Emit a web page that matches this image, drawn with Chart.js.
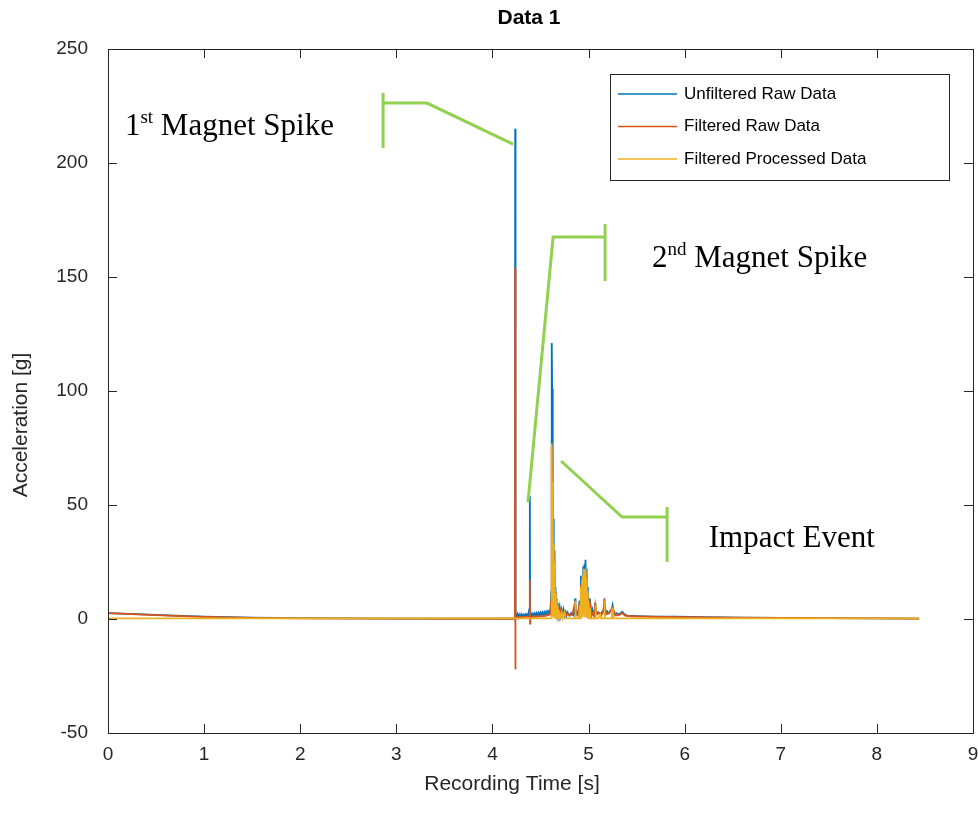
<!DOCTYPE html>
<html>
<head>
<meta charset="utf-8">
<script src="https://cdn.jsdelivr.net/npm/chart.js@4.4.1/dist/chart.umd.min.js"></script>
<style>
  html, body { margin: 0; padding: 0; background: #fff; }
  #wrap { width: 978px; height: 814px; }
</style>
</head>
<body>
<div id="wrap"><canvas id="plot" width="978" height="814"></canvas></div>
<script>
const titleText = 'Data 1'
const xLabel = 'Recording Time [s]'
const yLabel = 'Acceleration [g]'
const xTicks = [0, 1, 2, 3, 4, 5, 6, 7, 8, 9]
const yTicks = [-50, 0, 50, 100, 150, 200, 250]
const seriesNames = ['Unfiltered Raw Data', 'Filtered Raw Data', 'Filtered Processed Data']
const seriesColors = ['#0072BD', '#D95319', '#EDB120']

// [time s, acceleration g]
const unfilteredRaw = [
  [0,2.6],[0.3,2.1],[0.7,1.5],[1.0,1.0],[1.5,0.6],[2.0,0.4],[3.0,0.2],[4.0,0.1],
  [4.234,0.1],[4.237,215],[4.24,0.3],[4.25,1.2],[4.26,2.2],[4.27,0.7],[4.28,1.9],[4.29,1.0],
  [4.30,2.1],[4.31,1.0],[4.32,1.8],[4.33,1.1],[4.34,2.0],[4.35,1.1],[4.36,2.1],[4.37,1.2],
  [4.38,2.2],[4.386,1.3],[4.389,54],[4.392,1.0],[4.40,2.4],[4.41,1.3],[4.42,2.3],[4.43,1.4],
  [4.44,2.5],[4.45,1.5],[4.46,2.6],[4.47,1.6],[4.48,2.7],[4.49,1.7],[4.50,2.8],[4.51,1.8],
  [4.52,2.9],[4.53,2.0],[4.54,3.0],[4.55,2.0],[4.56,3.2],[4.57,2.2],[4.58,3.4],[4.59,2.6],
  [4.605,4.5],[4.612,12],[4.616,101],[4.618,121],[4.621,101],[4.624,62],[4.627,30],[4.63,46],
  [4.633,20],[4.636,44],[4.639,16],[4.642,30],[4.645,10],[4.648,22],[4.651,6],[4.655,14],
  [4.658,4],[4.662,9],[4.666,2],[4.67,7],[4.675,2],[4.68,7],[4.69,2],[4.70,5],[4.71,1.5],
  [4.72,4],[4.73,1.5],[4.74,4],[4.75,1.5],[4.76,3],[4.77,1.5],[4.78,3],[4.80,1.6],[4.82,2.6],
  [4.84,1.6],[4.855,3],[4.86,9],[4.865,2],[4.88,3],[4.895,1.5],[4.905,8],[4.912,3],[4.92,19],
  [4.926,8],[4.932,16],[4.938,6],[4.945,23],[4.951,9],[4.957,24],[4.962,10],[4.968,26],
  [4.974,12],[4.98,22],[4.986,8],[4.992,14],[4.998,5],[5.005,9],[5.012,3],[5.02,6],[5.03,2],
  [5.04,4],[5.05,2],[5.065,4],[5.07,7],[5.08,2.5],[5.10,3],[5.12,2],[5.14,3],[5.16,4],
  [5.165,9],[5.175,2.5],[5.19,3.5],[5.21,2.5],[5.24,4],[5.25,6],[5.265,2],[5.29,2.5],[5.32,2.0],
  [5.35,3.2],[5.37,2.2],[5.40,1.5],[5.5,1.3],[5.7,1.0],[5.9,1.0],[6.2,0.8],[6.6,0.6],
  [7.0,0.5],[7.5,0.4],[8.0,0.3],[8.44,0.2]
]
const filteredRaw = [
  [0,2.6],[0.3,2.0],[0.7,1.4],[1.0,0.9],[1.5,0.5],[2.0,0.3],[3.0,0.2],[4.0,0.1],
  [4.234,0.1],[4.236,154],[4.238,-22],[4.241,0.6],[4.27,0.8],[4.30,0.9],[4.35,1.0],[4.386,1.0],
  [4.389,17],[4.391,-2],[4.394,1.0],[4.45,1.1],[4.5,1.2],[4.55,1.4],[4.6,2.0],[4.612,8],
  [4.617,75],[4.621,55],[4.625,28],[4.629,40],[4.633,18],[4.637,30],[4.641,12],[4.645,20],
  [4.649,6],[4.653,12],[4.657,3],[4.662,7],[4.667,2],[4.672,5],[4.68,2],[4.69,4],[4.70,1.5],
  [4.71,3.5],[4.72,1.5],[4.74,3],[4.76,1.5],[4.78,2.5],[4.80,1.5],[4.83,2],[4.86,7],[4.87,1.5],
  [4.89,3],[4.905,6],[4.912,2],[4.92,15],[4.926,6],[4.932,13],[4.938,5],[4.945,19],[4.951,7],
  [4.957,20],[4.962,8],[4.968,21],[4.974,9],[4.98,18],[4.986,6],[4.992,11],[4.998,4],[5.005,7],
  [5.012,2],[5.02,5],[5.03,1.5],[5.05,3],[5.06,1.5],[5.07,6],[5.085,2],[5.11,2.5],[5.13,1.5],
  [5.15,3],[5.165,7],[5.18,2],[5.21,2.5],[5.25,5],[5.28,1.5],[5.32,1.8],[5.35,2.6],[5.38,1.5],
  [5.45,1.2],[5.6,1.0],[5.8,0.9],[6.0,0.8],[6.5,0.6],[7.0,0.5],[7.5,0.4],[8.0,0.3],[8.44,0.2]
]
const filteredProcessed = [
  [0,0.3],[1.0,0.3],[2.0,0.3],[3.0,0.3],[4.0,0.3],[4.61,0.3],[4.615,2],[4.618,77],[4.621,4],
  [4.624,60],[4.627,3],[4.63,42],[4.633,2],[4.636,33],[4.639,1],[4.642,25],[4.646,1],[4.65,17],
  [4.654,0.5],[4.658,11],[4.662,0.3],[4.667,8],[4.672,0.3],[4.678,6],[4.684,0.3],[4.69,4],
  [4.70,0.3],[4.72,3],[4.73,0.3],[4.75,3],[4.76,0.3],[4.86,0.3],[4.863,8],[4.866,0.3],[4.90,0.3],
  [4.91,6],[4.915,0.3],[4.92,14],[4.925,1],[4.93,17],[4.935,1],[4.94,19],[4.945,2],[4.95,22],
  [4.955,2],[4.96,20],[4.965,1],[4.97,22],[4.975,2],[4.98,18],[4.985,1],[4.99,12],[4.995,0.5],
  [5.0,8],[5.005,0.3],[5.015,5],[5.02,0.3],[5.07,0.3],[5.073,6],[5.076,0.3],[5.10,0.3],[5.12,2],
  [5.13,0.3],[5.163,0.3],[5.166,8],[5.169,0.3],[5.24,0.3],[5.25,5],[5.26,0.3],[8.44,0.3]
]

// green callouts, in data units
const calloutPaths = [
  [[2.862,230.7],[2.862,206.6]],
  [[2.862,226.3],[3.319,226.3],[4.214,208.3]],
  [[5.172,173.2],[5.172,148.2]],
  [[5.172,167.5],[4.631,167.5],[4.370,51.3]],
  [[4.714,69.3],[5.349,44.7],[5.817,44.7]],
  [[5.817,49.1],[5.817,25.0]]
]
const calloutTexts = [
  {x: 0.176, y: 212.5, base: '1', sup: 'st', rest: ' Magnet Spike'},
  {x: 5.66, y: 154.4, base: '2', sup: 'nd', rest: ' Magnet Spike'},
  {x: 6.25, y: 31.6, base: 'Impact Event', sup: '', rest: ''}
]

const SANS = '"Liberation Sans", Arial, sans-serif'
const SERIF = '"Liberation Serif", "Times New Roman", serif'
const INK = '#262626'

const toXY = arr => arr.map(p => ({x: p[0], y: p[1]}))

const matlabLook = {
  id: 'matlabLook',
  afterDatasetsDraw(chart) {
    const {ctx, chartArea: a, scales: {x, y}} = chart
    ctx.save()
    // callouts
    ctx.strokeStyle = '#92D050'
    ctx.lineWidth = 3
    calloutPaths.forEach(path => {
      ctx.beginPath()
      path.forEach((p, i) => {
        const px = x.getPixelForValue(p[0]), py = y.getPixelForValue(p[1])
        i ? ctx.lineTo(px, py) : ctx.moveTo(px, py)
      })
      ctx.stroke()
    })
    ctx.fillStyle = '#000'
    ctx.textBaseline = 'alphabetic'
    ctx.textAlign = 'left'
    calloutTexts.forEach(t => {
      let px = x.getPixelForValue(t.x)
      const py = y.getPixelForValue(t.y)
      ctx.font = '31px ' + SERIF
      ctx.fillText(t.base, px, py)
      px += ctx.measureText(t.base).width
      if (t.sup) {
        ctx.font = '19px ' + SERIF
        ctx.fillText(t.sup, px, py - 12)
        px += ctx.measureText(t.sup).width
      }
      ctx.font = '31px ' + SERIF
      ctx.fillText(t.rest, px, py)
    })

    // box + inward ticks
    ctx.strokeStyle = INK
    ctx.lineWidth = 1
    ctx.strokeRect(Math.round(a.left) + 0.5, Math.round(a.top) + 0.5, Math.round(a.right - a.left), Math.round(a.bottom - a.top))
    ctx.beginPath()
    const tl = 9
    xTicks.forEach(v => {
      const px = Math.round(x.getPixelForValue(v)) + 0.5
      ctx.moveTo(px, a.bottom); ctx.lineTo(px, a.bottom - tl)
      ctx.moveTo(px, a.top); ctx.lineTo(px, a.top + tl)
    })
    yTicks.forEach(v => {
      const py = Math.round(y.getPixelForValue(v)) + 0.5
      ctx.moveTo(a.left, py); ctx.lineTo(a.left + tl, py)
      ctx.moveTo(a.right, py); ctx.lineTo(a.right - tl, py)
    })
    ctx.stroke()

    // legend, top right inside the axes
    const lw = 339, lh = 106
    const lx = Math.round(a.right - 24 - lw), ly = Math.round(a.top + 25)
    ctx.fillStyle = '#fff'
    ctx.fillRect(lx, ly, lw, lh)
    ctx.strokeStyle = INK
    ctx.strokeRect(lx + 0.5, ly + 0.5, lw, lh)
    ctx.font = '17px ' + SANS
    ctx.textBaseline = 'middle'
    seriesNames.forEach((name, i) => {
      const ry = ly + 20 + i * 32.5
      ctx.strokeStyle = seriesColors[i]
      ctx.lineWidth = 1.5
      ctx.beginPath()
      ctx.moveTo(lx + 8, ry); ctx.lineTo(lx + 67, ry)
      ctx.stroke()
      ctx.fillStyle = '#000'
      ctx.fillText(name, lx + 74, ry)
    })

    // title and axis labels
    ctx.textAlign = 'center'
    ctx.font = 'bold 21px ' + SANS
    ctx.fillStyle = '#000'
    ctx.fillText(titleText, 529, 18)
    ctx.font = '21px ' + SANS
    ctx.fillStyle = INK
    ctx.fillText(xLabel, 512, 784)
    ctx.translate(21, 425)
    ctx.rotate(-Math.PI / 2)
    ctx.fillText(yLabel, 0, 0)
    ctx.restore()
  }
}

const serie = (data, i, order) => ({
  label: seriesNames[i],
  data: toXY(data),
  borderColor: seriesColors[i],
  backgroundColor: seriesColors[i],
  borderWidth: 1.8,
  pointRadius: 0,
  tension: 0,
  fill: false,
  order: order
})

new Chart(document.getElementById('plot'), {
  type: 'line',
  data: {
    datasets: [
      serie(unfilteredRaw, 0, 3),
      serie(filteredRaw, 1, 2),
      serie(filteredProcessed, 2, 1)
    ]
  },
  options: {
    responsive: false,
    animation: false,
    layout: {padding: {top: 49, right: 5, left: 0, bottom: 0}},
    plugins: {legend: {display: false}, tooltip: {enabled: false}},
    scales: {
      x: {
        type: 'linear', min: 0, max: 9,
        afterFit: s => { s.height = 81; s.paddingLeft = 0; s.paddingRight = 0 },
        afterBuildTicks: s => { s.ticks = xTicks.map(v => ({value: v})) },
        grid: {display: false, drawTicks: false},
        border: {display: false},
        ticks: {font: {family: SANS, size: 19}, color: INK, padding: 10, maxRotation: 0, autoSkip: false}
      },
      y: {
        min: -50, max: 250,
        afterFit: s => { s.width = 108; s.paddingTop = 0; s.paddingBottom = 0 },
        afterBuildTicks: s => { s.ticks = yTicks.map(v => ({value: v})) },
        grid: {display: false, drawTicks: false},
        border: {display: false},
        ticks: {font: {family: SANS, size: 19}, color: INK, padding: 20, autoSkip: false}
      }
    }
  },
  plugins: [matlabLook]
})
</script>
</body>
</html>
